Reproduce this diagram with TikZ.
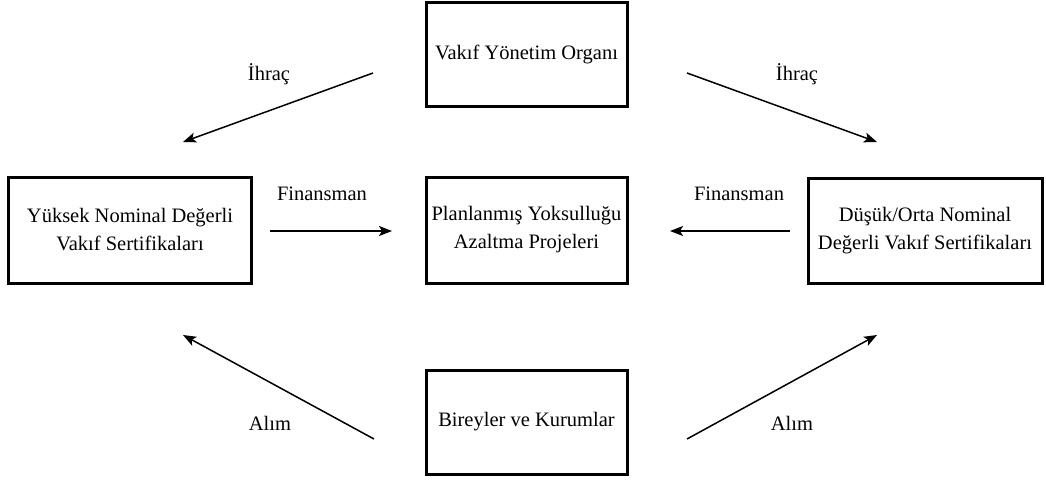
\documentclass[tikz,border=0pt]{standalone}
\usepackage{fontspec}
\setmainfont{Liberation Serif}
\usetikzlibrary{arrows.meta}
\tikzset{
  kutu/.style={draw, line width=3pt, align=center, inner sep=0pt,
    font=\fontsize{20.5}{28}\selectfont},
  etiket/.style={font=\fontsize{20.5}{28}\selectfont, inner sep=0pt},
  ok/.style={line width=1.5pt, -{Stealth[length=13pt,width=10pt,inset=3pt]}}
}
\begin{document}
\begin{tikzpicture}[x=1pt,y=-1pt]
    		\useasboundingbox (0,0) rectangle (1046,480);
    		%kutular
    		\node[kutu, minimum width=201pt, minimum height=104pt] at (526.5,54) (yonetim) {Vak\i f Yönetim Organ\i};
    		\node[kutu, minimum width=243pt, minimum height=106pt] at (130,230) (yuksek) {Yüksek Nominal Değerli\\Vak\i f Sertifikalar\i};
    		\node[kutu, minimum width=201pt, minimum height=106pt] at (526.5,230) (proje) {Planlanm\i ş Yoksullu\u{g}u\\Azaltma Projeleri};
    		\node[kutu, minimum width=234pt, minimum height=105pt] at (925,230.5) (dusuk) {Düşük/Orta Nominal\\Değerli Vak\i f Sertifikalar\i};
    		\node[kutu, minimum width=201pt, minimum height=104pt] at (526.5,422) (bireyler) {Bireyler ve Kurumlar};
  		%%%% OKLAR - uclar
  		\coordinate (ihracA1) at (373,73);
  		\coordinate (ihracA2) at (183,142);
  		\coordinate (ihracB1) at (687,73);
  		\coordinate (ihracB2) at (877,142);
  		\coordinate (finA1) at (270,231);
  		\coordinate (finA2) at (392,231);
  		\coordinate (finB1) at (790,231);
  		\coordinate (finB2) at (670,231);
  		\coordinate (alimA1) at (374,439);
  		\coordinate (alimA2) at (183,335);
  		\coordinate (alimB1) at (687,439);
  		\coordinate (alimB2) at (877,335);
  		%%%DIBUJO OKLAR
  		\draw[ok] (ihracA1) -- (ihracA2);
  		\draw[ok] (ihracB1) -- (ihracB2);
  		\draw[ok] (finA1) -- (finA2);
  		\draw[ok] (finB1) -- (finB2);
  		\draw[ok] (alimA1) -- (alimA2);
  		\draw[ok] (alimB1) -- (alimB2);
  		%etiketler
  		\node[etiket] at (269,74) (ihracsol) {İhraç};
  		\node[etiket] at (797,74) (ihracsag) {İhraç};
  		\node[etiket] at (322,194) (finsol) {Finansman};
  		\node[etiket] at (739,194) (finsag) {Finansman};
  		\node[etiket] at (270,423) (alimsol) {Al\i m};
  		\node[etiket] at (792,423) (alimsag) {Al\i m};
\end{tikzpicture}
\end{document}
